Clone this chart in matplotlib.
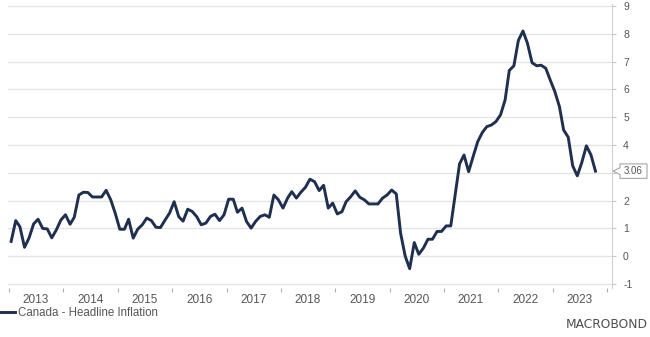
import matplotlib
matplotlib.use("Agg")
import matplotlib.pyplot as plt
import matplotlib.dates as mdates
import matplotlib.transforms as mtransforms
from matplotlib.patches import Polygon
import pandas as pd

plt.rcParams['font.family'] = ['Liberation Sans', 'DejaVu Sans']

# Canada headline CPI inflation, % y/y, monthly Jan 2013 - Oct 2023
y2013 = [0.53, 1.28, 1.06, 0.32, 0.65, 1.16, 1.33, 1.00, 0.98, 0.66, 0.95, 1.30]
y2014 = [1.49, 1.15, 1.40, 2.20, 2.30, 2.29, 2.13, 2.13, 2.13, 2.37, 2.03, 1.55]
y2015 = [0.97, 0.97, 1.33, 0.65, 0.97, 1.13, 1.37, 1.28, 1.04, 1.03, 1.30, 1.55]
y2016 = [1.96, 1.42, 1.26, 1.69, 1.61, 1.42, 1.13, 1.19, 1.43, 1.51, 1.28, 1.49]
y2017 = [2.05, 2.05, 1.58, 1.73, 1.25, 1.01, 1.25, 1.43, 1.49, 1.40, 2.20, 2.03]
y2018 = [1.73, 2.09, 2.32, 2.09, 2.30, 2.48, 2.77, 2.68, 2.36, 2.55, 1.73, 1.91]
y2019 = [1.52, 1.60, 1.96, 2.14, 2.35, 2.12, 2.03, 1.88, 1.88, 1.88, 2.09, 2.20]
y2020 = [2.38, 2.24, 0.83, 0.00, -0.45, 0.49, 0.07, 0.29, 0.61, 0.61, 0.89, 0.89]
y2021 = [1.09, 1.09, 2.14, 3.32, 3.64, 3.04, 3.58, 4.12, 4.45, 4.66, 4.72, 4.84]
y2022 = [5.08, 5.62, 6.68, 6.85, 7.76, 8.10, 7.66, 6.96, 6.85, 6.87, 6.76, 6.34]
y2023 = [5.92, 5.38, 4.54, 4.28, 3.25, 2.89, 3.37, 3.97, 3.64, 3.06]

values = y2013 + y2014 + y2015 + y2016 + y2017 + y2018 + y2019 + y2020 + y2021 + y2022 + y2023
dates = pd.date_range("2013-01-01", periods=len(values), freq="MS") + pd.Timedelta(days=14)
series_name = "Canada - Headline Inflation"
last_label = "3.06"
yticks = list(range(-1, 10))

line_color = "#1f2f4f"
grid_color = "#e4e4e4"
text_color = "#555555"

W, H = 650, 337
fig = plt.figure(figsize=(W / 100, H / 100), dpi=100)
ax_left, ax_right, ax_top, ax_bottom = 8, 612, 4, 288
ax = fig.add_axes([ax_left / W, (H - ax_bottom) / H,
                   (ax_right - ax_left) / W, (ax_bottom - ax_top) / H])

ax.plot(dates, values, color=line_color, lw=2.1, solid_joinstyle="round", zorder=3)

ax.set_ylim(-1.144, 9.072)
ax.set_xlim(pd.Timestamp("2012-12-25"), pd.Timestamp("2024-02-03"))

last = values[-1]
ax.yaxis.tick_right()
ax.set_yticks(yticks)
# the value tag covers the tick label nearest to the last value
ax.set_yticklabels(["" if abs(v - last) < 0.3 else str(v) for v in yticks])
ax.grid(axis="y", color=grid_color, lw=1.0, zorder=0)
ax.tick_params(axis="y", which="major", length=3, width=0.8, color="#c8c8c8",
               pad=5, labelsize=7.5, labelcolor=text_color)

ax.xaxis.set_major_locator(mdates.YearLocator())
ax.xaxis.set_major_formatter(plt.NullFormatter())
ax.xaxis.set_minor_locator(mdates.MonthLocator(bymonth=7))
ax.xaxis.set_minor_formatter(mdates.DateFormatter("%Y"))
ax.tick_params(axis="x", which="major", length=3, width=0.8, color="#b0b0b0")
ax.tick_params(axis="x", which="minor", length=0, pad=4, labelsize=8.5,
               labelcolor=text_color)

for side in ("left", "top", "bottom"):
    ax.spines[side].set_visible(False)
ax.spines["right"].set_color("#d0d0d0")
ax.spines["right"].set_linewidth(0.8)

# last-value tag beside the right axis
trans = mtransforms.blended_transform_factory(fig.transFigure, ax.transData)
x0, x1, x2 = 613 / W, 620 / W, 647 / W
tag = Polygon([(x0, last), (x1, last + 0.12), (x1, last + 0.26), (x2, last + 0.26),
               (x2, last - 0.26), (x1, last - 0.26), (x1, last - 0.12)],
              closed=True, transform=trans, facecolor="white", edgecolor="#9a9a9a",
              lw=0.7, clip_on=False, zorder=5)
fig.add_artist(tag)
fig.text((x1 + x2) / 2, last, last_label, transform=trans, ha="center", va="center",
         fontsize=7, color=text_color, zorder=6)

leg = fig.legend([ax.lines[0]], [series_name], loc="center left",
                 bbox_to_anchor=(0.0, (H - 313) / H), frameon=False,
                 handlelength=1.3, handletextpad=0.3, borderaxespad=0, borderpad=0,
                 fontsize=8.3, labelcolor=text_color)

fig.text(648 / W, (H - 325) / H, "MACROBOND", ha="right", va="center",
         fontsize=8.8, color="#4d4d4d", family="DejaVu Sans")

fig.savefig("out.png", dpi=100)
